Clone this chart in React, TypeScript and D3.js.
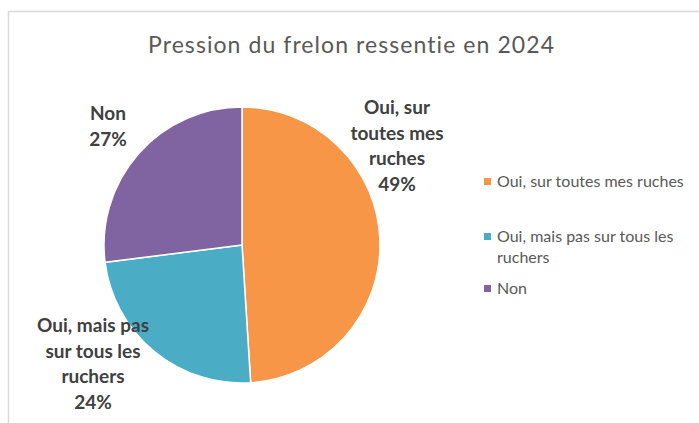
import React from "react";
import * as d3 from "d3";

const categories = [
  "Oui, sur toutes mes ruches",
  "Oui, mais pas sur tous les ruchers",
  "Non",
];
const values = [49, 24, 27];
const colors = ["#F79646", "#4BACC6", "#8064A2"];
// data label lines (Excel "best fit" wrapping)
const labelLines = [
  ["Oui, sur", "toutes mes", "ruches"],
  ["Oui, mais pas", "sur tous les", "ruchers"],
  ["Non"],
];
// legend wrapping
const legendLines = [
  ["Oui, sur toutes mes ruches"],
  ["Oui, mais pas sur tous les", "ruchers"],
  ["Non"],
];

const W = 699;
const H = 423;
const cx = 242;
const cy = 245;
const radius = 138;
// label block centers (x, first line baseline)
const labelPos = [
  [397, 114],
  [93, 332],
  [108, 120],
];
const legendRowY = [187, 242, 294];

const App = () => {
  const pie = d3
    .pie<number>()
    .sort(null)
    .value((d) => d);
  const arcs = pie(values);
  const arc = d3.arc<d3.PieArcDatum<number>>().innerRadius(0).outerRadius(radius);
  const total = d3.sum(values);
  const fmt = d3.format(".0%");

  return (
    <svg
      width={W}
      height={H}
      style={{ position: "absolute", left: 0, top: 0, background: "#fff", fontVariantLigatures: "none" }}
      fontFamily="Lato, 'Open Sans', sans-serif"
    >
      <rect x={8.5} y={11.5} width={W} height={H} fill="#fff" stroke="#D9D9D9" strokeWidth={1.5} />
      <text x={351} y={53} textAnchor="middle" fontSize={23} fill="#595959" textLength={406} lengthAdjust="spacing">
        Pression du frelon ressentie en 2024
      </text>

      <g transform={`translate(${cx},${cy})`}>
        {arcs.map((a, i) => (
          <path key={i} d={arc(a) || ""} fill={colors[i]} stroke="#fff" strokeWidth={1.5} />
        ))}
      </g>

      {labelLines.map((lines, i) => {
        const [lx, ly] = labelPos[i];
        const all = [...lines, fmt(values[i] / total)];
        return (
          <text key={i} textAnchor="middle" fontSize={19} fontWeight="bold" fill="#404040">
            {all.map((t, j) => (
              <tspan key={j} x={lx} y={ly + j * 25.5}>
                {t}
              </tspan>
            ))}
          </text>
        );
      })}

      {categories.map((c, i) => (
        <g key={c}>
          <rect x={484} y={legendRowY[i] - 9} width={7} height={7} fill={colors[i]} />
          <text fontSize={16} fill="#595959">
            {legendLines[i].map((t, j) => (
              <tspan key={j} x={497} y={legendRowY[i] + j * 21}>
                {t}
              </tspan>
            ))}
          </text>
        </g>
      ))}
    </svg>
  );
};

export default App;
